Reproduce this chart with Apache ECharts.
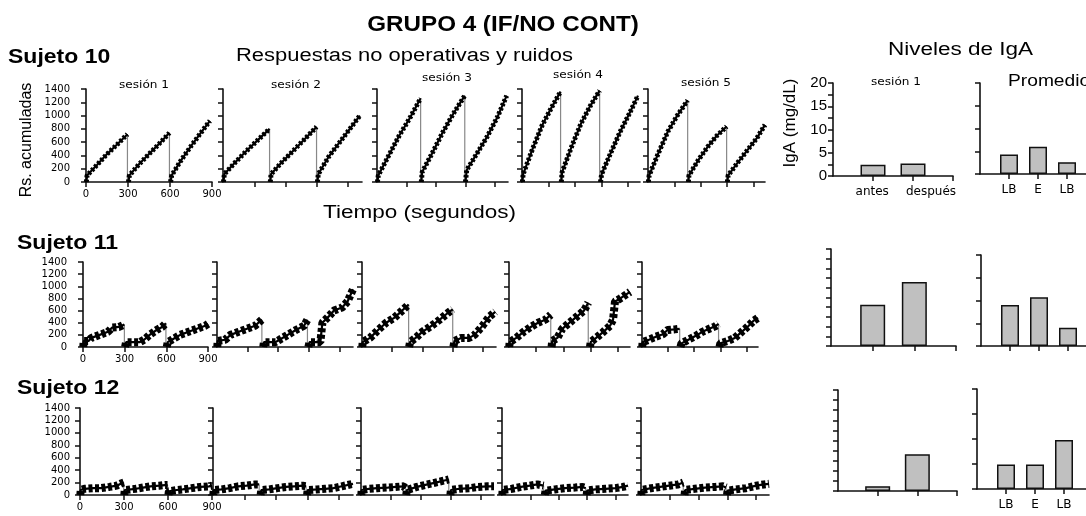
<!DOCTYPE html>
<html><head><meta charset="utf-8">
<script src="https://cdn.jsdelivr.net/npm/echarts/dist/echarts.min.js"></script>
<style>html,body{margin:0;padding:0;background:#fff}#c{width:1086px;height:516px}</style>
</head><body><div id="c"></div>
<script>
// ---------------- DATA ----------------
const mainTitle = 'GRUPO 4 (IF/NO CONT)';
const subjects = ['Sujeto 10', 'Sujeto 11', 'Sujeto 12'];
const sessionTitles = ['sesión 1', 'sesión 2', 'sesión 3', 'sesión 4', 'sesión 5'];
const lineBlockTitle = 'Respuestas no operativas y ruidos';
const timeAxisTitle = 'Tiempo (segundos)';
const yAxisTitle = 'Rs. acumuladas';
const igaBlockTitle = 'Niveles de IgA';
const igaAxisTitle = 'IgA (mg/dL)';
const igaSessionTitle = 'sesión 1';
const igaMeanTitle = 'Promedio';
const igaSessionCats = ['antes', 'después'];
const igaMeanCats = ['LB', 'E', 'LB'];

// cumulative records: [session][segment][[time, responses]]
const suj10 = [
  [[[2,0],[8,100],[80,260],[150,420],[220,560],[296,720]],
   [[303,0],[310,100],[380,270],[450,420],[520,570],[596,740]],
   [[604,0],[612,100],[680,330],[750,540],[820,740],[885,920]]],
  [[[3,0],[10,120],[90,300],[170,470],[250,630],[335,800]],
   [[340,0],[346,120],[420,290],[500,460],[580,630],[673,830]],
   [[679,0],[686,120],[760,380],[840,600],[920,820],[985,1000]]],
  [[[3,0],[10,100],[90,400],[170,700],[250,960],[333,1260]],
   [[338,0],[345,150],[420,430],[500,740],[580,1020],[670,1300]],
   [[675,0],[685,180],[760,420],[840,680],[920,980],[990,1300]]],
  [[[3,0],[10,120],[90,500],[170,850],[250,1120],[327,1360]],
   [[333,0],[340,150],[420,530],[500,880],[580,1150],[658,1375]],
   [[665,0],[675,120],[750,430],[830,750],[910,1030],[983,1300]]],
  [[[3,0],[10,100],[90,440],[170,760],[250,1000],[339,1230]],
   [[345,0],[350,100],[430,330],[510,530],[590,700],[672,835]],
   [[678,0],[685,100],[770,300],[850,480],[930,660],[1000,860]]]
];
const suj11 = [
  [[[2,0],[5,100],[40,100],[60,150],[120,200],[180,250],[210,320],[260,330],[298,370]],
   [[303,0],[310,80],[410,80],[440,120],[480,200],[530,280],[570,330],[597,390]],
   [[603,0],[610,80],[640,120],[700,200],[760,250],[820,300],[880,350],[900,380]]],
  [[[2,0],[5,100],[60,120],[100,200],[160,250],[220,300],[280,350],[330,450]],
   [[340,0],[345,80],[430,80],[460,120],[520,200],[580,280],[640,350],[665,450]],
   [[672,0],[680,80],[760,80],[775,400],[820,500],[860,600],[920,650],[960,750],[1000,950]]],
  [[[2,0],[5,80],[60,150],[120,280],[180,400],[240,480],[300,600],[348,700]],
   [[352,0],[358,80],[400,150],[450,250],[520,350],[580,450],[640,560],[677,620]],
   [[682,0],[690,100],[740,150],[800,150],[840,200],[900,350],[950,500],[995,580]]],
  [[[2,0],[5,80],[60,150],[120,250],[180,330],[240,400],[300,450],[345,530]],
   [[352,0],[357,100],[400,150],[440,300],[500,400],[560,500],[620,600],[655,730]],
   [[669,0],[675,80],[720,150],[780,250],[835,350],[860,450],[876,750],[920,800],[1000,907]]],
  [[[2,0],[5,80],[60,120],[120,170],[180,210],[220,280],[280,290],[325,300]],
   [[332,0],[340,60],[400,120],[460,180],[520,250],[580,300],[630,340],[660,380]],
   [[668,0],[675,60],[740,100],[800,150],[860,250],[920,350],[960,430],[1000,480]]]
];
const suj12 = [
  [[[2,0],[5,80],[30,100],[90,110],[140,110],[200,130],[250,150],[285,190],[298,200]],
   [[302,0],[305,80],[380,100],[430,120],[480,140],[540,150],[580,160],[597,160]],
   [[603,0],[606,60],[660,80],[700,90],[760,110],[820,130],[880,140],[900,150]]],
  [[[2,0],[5,80],[60,90],[120,110],[180,140],[240,150],[300,170],[330,170]],
   [[340,0],[345,80],[400,90],[460,110],[520,130],[580,140],[640,150],[665,140]],
   [[672,0],[676,80],[740,90],[800,100],[860,110],[920,140],[1000,180]]],
  [[[2,0],[5,80],[60,100],[120,110],[200,120],[260,130],[320,140],[335,110]],
   [[340,0],[345,80],[420,130],[500,170],[560,200],[620,230],[660,250]],
   [[672,0],[676,80],[740,100],[820,110],[880,130],[950,140],[1000,140]]],
  [[[2,0],[5,80],[80,100],[150,130],[220,150],[280,170],[330,150]],
   [[340,0],[345,70],[420,90],[500,110],[580,120],[640,130],[665,110]],
   [[672,0],[676,70],[740,90],[820,100],[900,110],[960,130],[1000,150]]],
  [[[2,0],[5,80],[80,110],[150,130],[220,150],[290,170],[330,200]],
   [[340,0],[345,80],[420,100],[500,120],[580,130],[640,140],[665,120]],
   [[672,0],[676,70],[740,90],[820,110],[900,150],[960,170],[1000,180]]]
];
const records = [suj10, suj11, suj12];

// IgA levels (mg/dL)
const igaSession1 = [[2.4, 2.7], [10.6, 16.5], [1.2, 9.1]];   // antes, después
const igaMean = [[4.3, 6.0, 2.6], [9.0, 10.7, 4.0], [4.9, 4.9, 9.8]]; // LB, E, LB

// ---------------- LAYOUT ----------------
const rowLayout = [
  {top: 89, h: 93, plots: [[86,126],[223,139],[377,131],[522,118],[648,117]]},
  {top: 262, h: 85, plots: [[83,125],[217,136],[362,134],[509,121],[642,116]]},
  {top: 408, h: 87, plots: [[80,132],[213,140],[361,133],[502,126],[641,128]]}
];
const barLayout = [
  {s: [833, 83, 120, 93, 20, 2.5], m: [980, 83, 116, 91]},
  {s: [831, 249, 125, 97, 25, 2.5], m: [981, 255, 116, 91]},
  {s: [838, 390, 119, 101, 25, 2.5], m: [977, 389, 116, 100]}
];
const FONT = '"Liberation Sans", Arial, sans-serif';
const SMALL = '"DejaVu Sans", sans-serif';

const grid = [], xAxis = [], yAxis = [], series = [];
const axisLine = {show: true, lineStyle: {color: '#111', width: 1.6}};
const tick = {show: true, length: 5, lineStyle: {color: '#111', width: 1.5}};

rowLayout.forEach((row, r) => {
  row.plots.forEach((p, s) => {
    const gi = grid.length;
    grid.push({left: p[0], top: row.top, width: p[1], height: row.h, containLabel: false, outerBoundsMode: 'none'});
    const first = s === 0;
    xAxis.push({
      gridIndex: gi, type: 'value', min: 0, max: first ? 900 : 1000, interval: first ? 300 : 225,
      axisLine, splitLine: {show: false},
      axisTick: Object.assign({}, tick, {customValues: first ? [0, 300, 600, 900] : [225, 450, 675, 900]}),
      axisLabel: {show: first, fontFamily: SMALL, fontSize: 10, color: '#000', margin: 7, formatter: v => String(v)}
    });
    yAxis.push({
      gridIndex: gi, type: 'value', min: 0, max: 1400, interval: 200,
      axisLine, splitLine: {show: false}, axisTick: tick,
      axisLabel: {show: first, fontFamily: SMALL, fontSize: 10, color: '#000', margin: r === 2 ? 10 : 16,
        formatter: v => String(v)}
    });
    const segs = records[r][s];
    const bw = r === 0 ? 5 : 8;
    segs.forEach((seg, k) => {
      series.push({type: 'line', xAxisIndex: gi, yAxisIndex: gi, data: seg, symbol: 'none',
        lineStyle: {color: '#000', width: 2.2}, silent: true, z: 3, animation: false});
      // response bursts drawn as a hatched band over the record
      series.push({type: 'line', xAxisIndex: gi, yAxisIndex: gi, data: seg, symbol: 'none',
        lineStyle: {color: '#000', width: bw, type: r === 0 ? [2.5, 2] : [4, 2.5], cap: 'butt'},
        silent: true, z: 4, animation: false});
      if (k < segs.length - 1) {
        const last = seg[seg.length - 1];
        series.push({type: 'line', xAxisIndex: gi, yAxisIndex: gi,
          data: [[last[0], last[1]], [last[0], 0]], symbol: 'none',
          lineStyle: {color: '#888', width: 1.2}, silent: true, z: 2, animation: false});
      }
    });
  });
});

const barItem = {color: '#c0c0c0', borderColor: '#111', borderWidth: 1.5};
barLayout.forEach((b, r) => {
  // sesión 1
  let gi = grid.length;
  grid.push({left: b.s[0], top: b.s[1], width: b.s[2], height: b.s[3], containLabel: false, outerBoundsMode: 'none'});
  xAxis.push({gridIndex: gi, type: 'value', min: 0, max: 3, interval: 1, axisLine, splitLine: {show: false},
    axisTick: Object.assign({}, tick, {customValues: [1, 2, 3]}),
    axisLabel: {show: r === 0, fontFamily: SMALL, fontSize: 12, color: '#000', margin: 10,
      customValues: [0.98, 2.45], formatter: v => igaSessionCats[v < 1.5 ? 0 : 1]}});
  yAxis.push({gridIndex: gi, type: 'value', min: 0, max: b.s[4], interval: b.s[5], axisLine, splitLine: {show: false},
    axisTick: tick,
    axisLabel: {show: r === 0, fontFamily: FONT, fontSize: 15, color: '#000', margin: 6,
      formatter: v => (v % 5 === 0 ? String(v) : '')}});
  series.push({type: 'bar', xAxisIndex: gi, yAxisIndex: gi, barWidth: 25, itemStyle: barItem, silent: true, animation: false,
    data: igaSession1[r].map((v, i) => [i + 1, v])});
  // promedio
  gi = grid.length;
  grid.push({left: b.m[0], top: b.m[1], width: b.m[2], height: b.m[3], containLabel: false, outerBoundsMode: 'none'});
  xAxis.push({gridIndex: gi, type: 'value', min: 0, max: 4, interval: 1, axisLine, splitLine: {show: false},
    axisTick: Object.assign({}, tick, {customValues: [1, 2, 3]}),
    axisLabel: {show: r !== 1, fontFamily: SMALL, fontSize: 12, color: '#000', margin: 10,
      customValues: [1, 2, 3], formatter: v => igaMeanCats[v - 1] || ''}});
  yAxis.push({gridIndex: gi, type: 'value', min: 0, max: 20, interval: 5, axisLine, splitLine: {show: false},
    axisTick: tick, axisLabel: {show: false}});
  series.push({type: 'bar', xAxisIndex: gi, yAxisIndex: gi, barWidth: 18, itemStyle: barItem, silent: true, animation: false,
    data: igaMean[r].map((v, i) => [i + 1, v])});
});

function txt(str, x, y, size, o) {
  o = o || {};
  return {type: 'text', x: x, y: y, scaleX: o.sx || 1, rotation: o.rot || 0, silent: true,
    style: {text: str, fill: '#000', font: (o.bold ? 'bold ' : '') + size + 'px ' + (o.fam || FONT),
      textAlign: o.align || 'left', textVerticalAlign: 'middle', align: o.align || 'left', verticalAlign: 'middle'}};
}
const sesCenters = [[144, 85], [296, 85], [447, 78], [578, 75], [706, 83]];
const graphic = [
  txt(mainTitle, 503, 25, 22, {bold: true, align: 'center', sx: 1.1}),
  txt(subjects[0], 8, 57, 20, {bold: true, sx: 1.15}),
  txt(subjects[1], 17, 243, 20, {bold: true, sx: 1.15}),
  txt(subjects[2], 17, 388, 20, {bold: true, sx: 1.15}),
  txt(lineBlockTitle, 236, 56, 18, {sx: 1.22}),
  txt(timeAxisTitle, 323, 213, 18, {sx: 1.25}),
  txt(igaBlockTitle, 888, 50, 18, {sx: 1.25}),
  txt(yAxisTitle, 27, 140, 16, {align: 'center', rot: Math.PI / 2}),
  txt(igaAxisTitle, 790, 123, 17, {align: 'center', rot: Math.PI / 2}),
  txt(igaSessionTitle, 896, 82, 11, {align: 'center', fam: SMALL, sx: 1.1}),
  txt(igaMeanTitle, 1008, 82, 16, {sx: 1.2})
];
sessionTitles.forEach((t, i) => graphic.push(txt(t, sesCenters[i][0], sesCenters[i][1], 11, {align: 'center', fam: SMALL, sx: 1.1})));

const chart = echarts.init(document.getElementById('c'), null, {renderer: 'canvas'});
chart.setOption({backgroundColor: '#fff', animation: false, grid, xAxis, yAxis, series, graphic});
</script></body></html>
